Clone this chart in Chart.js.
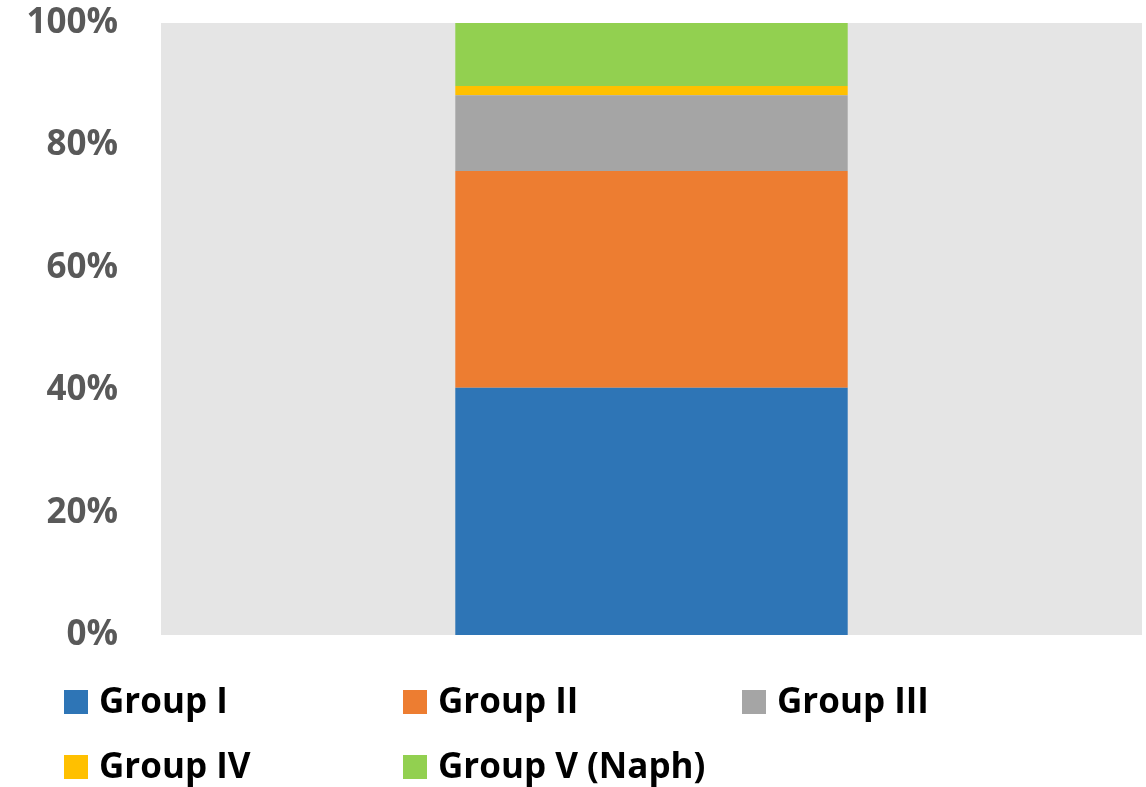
<!DOCTYPE html>
<html>
<head>
<meta charset="utf-8">
<script src="https://cdn.jsdelivr.net/npm/chart.js@4"></script>
<style>
  html, body { margin: 0; padding: 0; background: #fff; }
  #wrap { width: 1146px; height: 787px; position: relative; }
</style>
</head>
<body>
<div id="wrap"><canvas id="c" width="1146" height="787"></canvas></div>
<script>
// Stacked composition of a single sample (percent of total)
const categories = [''];
const seriesNames = ['Group I', 'Group II', 'Group III', 'Group IV', 'Group V (Naph)'];
const groupI = [40.4];
const groupII = [35.4];
const groupIII = [12.4];
const groupIV = [1.5];
const groupV = [10.3];
const yTicks = [0, 20, 40, 60, 80, 100];

const colors = ['#2e75b6', '#ed7d31', '#a5a5a5', '#ffc000', '#92d050'];
const values = [groupI, groupII, groupIII, groupIV, groupV];

const FONT = '"Open Sans", "Liberation Sans", sans-serif';

// Gray plot background
const plotBg = {
  id: 'plotBg',
  beforeDraw(chart) {
    const { ctx, chartArea: a } = chart;
    ctx.save();
    ctx.fillStyle = '#e5e5e5';
    ctx.fillRect(a.left, a.top, a.right - a.left, a.bottom - a.top);
    ctx.restore();
  }
};

// Three-column legend below the plot
const gridLegend = {
  id: 'gridLegend',
  afterDraw(chart) {
    const { ctx } = chart;
    const cols = [64, 403, 742];
    const rows = [702, 767];
    const box = 24;
    ctx.save();
    ctx.font = 'bold 35px ' + FONT;
    ctx.textBaseline = 'middle';
    chart.data.datasets.forEach((ds, i) => {
      const x = cols[i % 3];
      const y = rows[Math.floor(i / 3)];
      ctx.fillStyle = ds.backgroundColor;
      ctx.fillRect(x, y - box / 2, box, box);
      ctx.fillStyle = '#000';
      ctx.fillText(ds.label, x + 35, y + 1);
    });
    ctx.restore();
  }
};

new Chart(document.getElementById('c'), {
  type: 'bar',
  data: {
    labels: categories,
    datasets: seriesNames.map((name, i) => ({
      label: name,
      data: values[i],
      backgroundColor: colors[i],
      borderWidth: 0,
      barPercentage: 0.4,
      categoryPercentage: 1.0
    }))
  },
  options: {
    responsive: false,
    animation: false,
    layout: { padding: { top: 23, bottom: 152, right: 4, left: 0 } },
    plugins: { legend: { display: false }, tooltip: { enabled: false } },
    scales: {
      x: { stacked: true, display: false },
      y: {
        stacked: true,
        min: 0,
        max: 100,
        border: { display: false },
        grid: { display: false, drawTicks: false },
        afterBuildTicks(scale) { scale.ticks = yTicks.map(v => ({ value: v })); },
        afterFit(scale) {
          scale.width = 161;
          scale.paddingTop = 0;
          scale.paddingBottom = 0;
        },
        ticks: {
          padding: 43,
          color: '#595959',
          font: { family: FONT, size: 35, weight: 'bold' },
          callback: v => v + '%'
        }
      }
    }
  },
  plugins: [plotBg, gridLegend]
});
</script>
</body>
</html>
